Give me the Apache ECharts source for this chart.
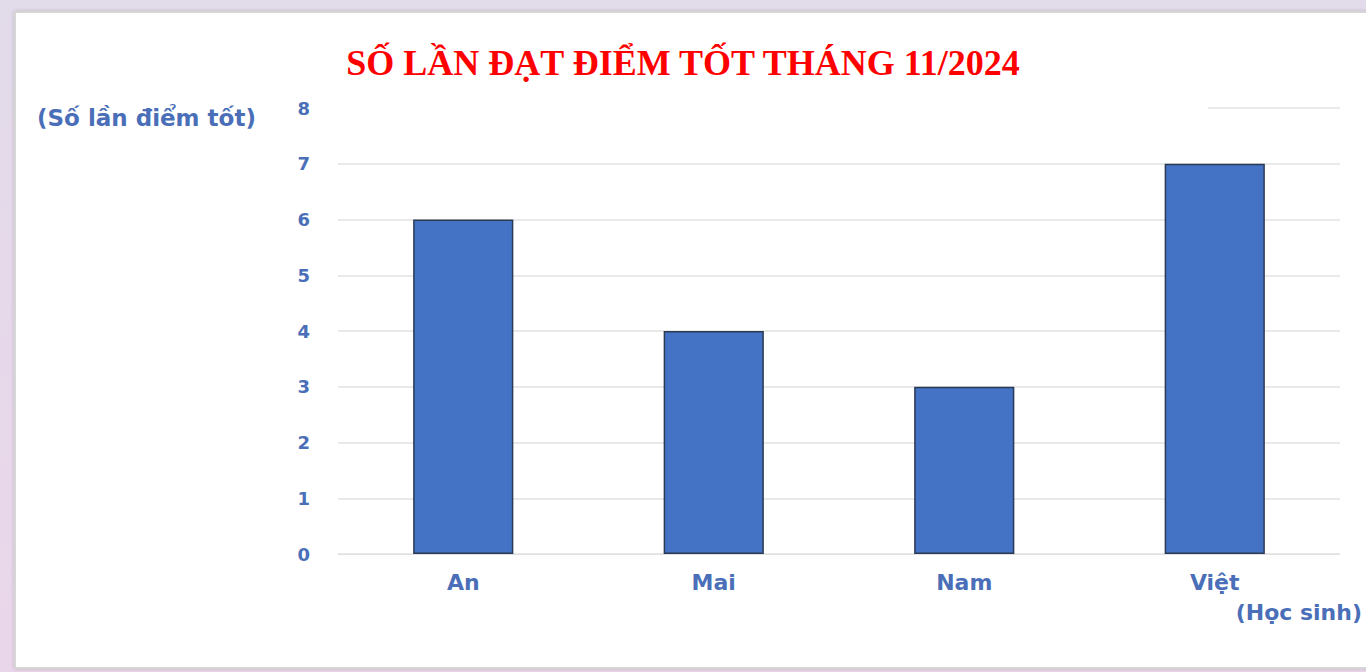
<!DOCTYPE html>
<html><head><meta charset="utf-8">
<script src="https://cdn.jsdelivr.net/npm/echarts@6/dist/echarts.min.js"></script>
<style>html,body{margin:0;padding:0;}#c{width:1366px;height:672px;}</style>
</head><body><div id="c"></div>
<script>
const categories = ['An', 'Mai', 'Nam', 'Việt'];
const values = [6, 4, 3, 7];
const yTicks = [0, 1, 2, 3, 4, 5, 6, 7, 8];
const titleText = 'SỐ LẦN ĐẠT ĐIỂM TỐT THÁNG 11/2024';
const yName = '(Số lần điểm tốt)';
const xName = '(Học sinh)';

const blue = '#4a6fb8';
const chart = echarts.init(document.getElementById('c'), null, {renderer: 'svg'});
chart.setOption({
  backgroundColor: {
    type: 'linear', x: 0, y: 0, x2: 0, y2: 1,
    colorStops: [{offset: 0, color: '#e2dbea'}, {offset: 1, color: '#ead6ea'}]
  },
  title: {
    text: titleText, left: 'center', top: 40,
    textStyle: {fontFamily: 'Liberation Serif', fontWeight: 'bold', fontSize: 36, color: '#ff0000'}
  },
  grid: {left: 338, right: 26, top: 108, bottom: 118},
  xAxis: {
    type: 'category', data: categories,
    axisLine: {show: true, lineStyle: {color: '#e0e0e0', width: 1}},
    axisTick: {show: false},
    axisLabel: {margin: 17, color: blue, fontFamily: 'DejaVu Sans', fontWeight: 'bold', fontSize: 22}
  },
  yAxis: {
    type: 'value', min: yTicks[0], max: yTicks[yTicks.length - 1], interval: 1,
    axisLine: {show: false}, axisTick: {show: false},
    splitLine: {lineStyle: {color: '#e2e2e2', width: 1.5}},
    axisLabel: {margin: 28, color: blue, fontFamily: 'DejaVu Sans', fontWeight: 'bold', fontSize: 18}
  },
  series: [{
    type: 'bar', data: values, barWidth: '40%',
    itemStyle: {color: '#4472c4', borderColor: '#2b3a55', borderWidth: 1.5}
  }],
  graphic: [
    {type: 'rect', z: -10, shape: {x: 15, y: 12, width: 1360, height: 656},
     style: {fill: '#ffffff', stroke: '#d6d6d6', lineWidth: 2, shadowBlur: 4, shadowColor: 'rgba(0,0,0,0.15)'}},
    {type: 'rect', z: 50, shape: {x: 330, y: 100, width: 878, height: 16}, style: {fill: '#ffffff'}},
    {type: 'text', z: 60, left: 37, top: 106,
     style: {text: yName, fill: blue, font: 'bold 23px "DejaVu Sans"'}},
    {type: 'text', z: 60, right: 4, top: 601,
     style: {text: xName, fill: blue, font: 'bold 22px "DejaVu Sans"'}}
  ]
});
</script></body></html>
